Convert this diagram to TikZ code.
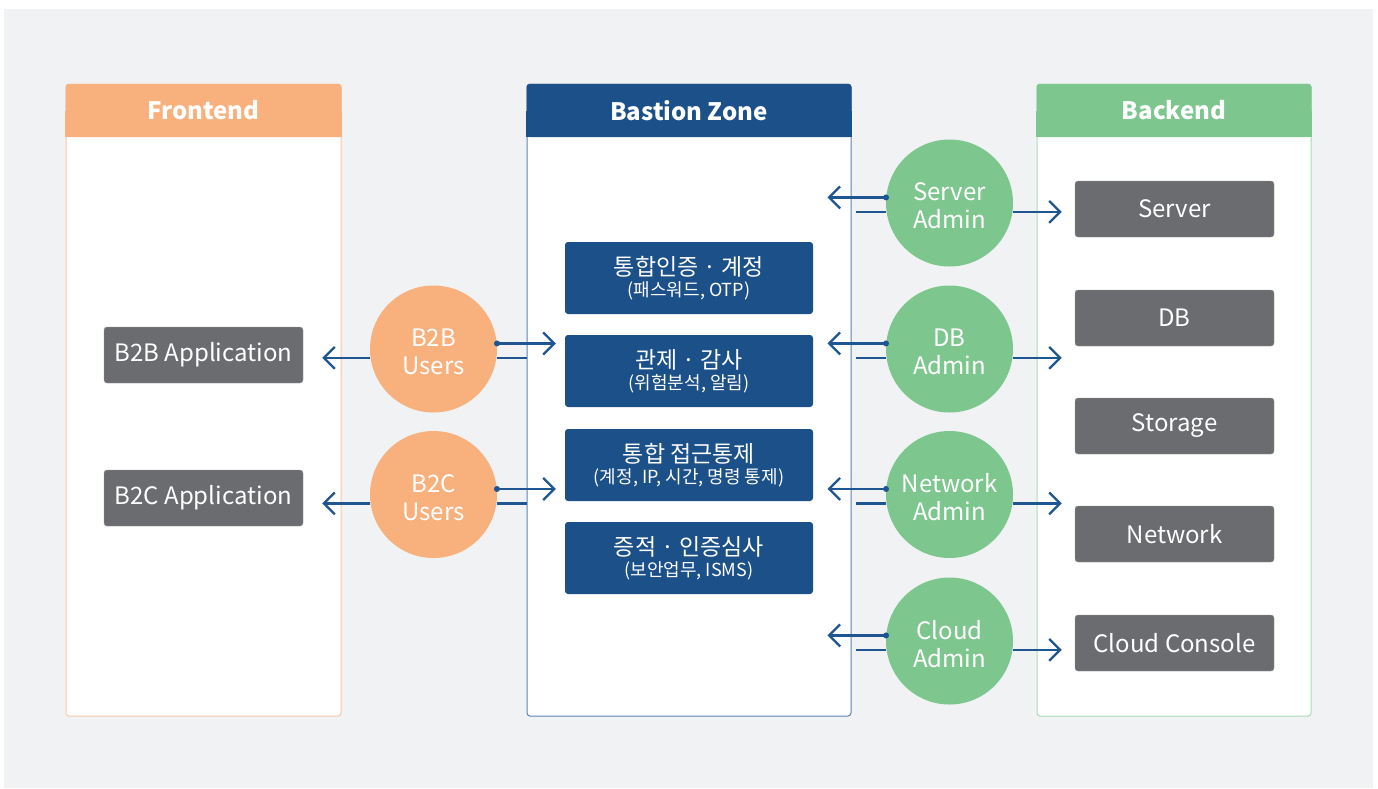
\documentclass[tikz,border=0pt]{standalone}
\usepackage{fontspec}
\setmainfont{Noto Sans CJK KR}
\usepackage{xcolor}
\usetikzlibrary{arrows.meta, calc, positioning}

\definecolor{bgGray}{HTML}{F0F2F4}
\definecolor{feOrange}{HTML}{F8B07C}
\definecolor{feLine}{HTML}{F8CBA8}
\definecolor{bzBlue}{HTML}{1C5088}
\definecolor{bzLine}{HTML}{5B84B3}
\definecolor{beGreen}{HTML}{7DC78F}
\definecolor{beLine}{HTML}{A9DCB6}
\definecolor{boxGray}{HTML}{6B6C70}
\definecolor{linkBlue}{HTML}{1F5590}

\begin{document}
\begin{tikzpicture}[
    x=1pt, y=-1pt,
    >={Straight Barb[length=11pt, width=22pt]},
    panel/.style={draw, fill=white, rounded corners=3pt, line width=1pt,
        minimum height=632pt, inner sep=0pt},
    head/.style={rounded corners=3pt, minimum height=53pt, inner sep=0pt,
        text=white, font=\bfseries\fontsize{24}{28}\selectfont},
    item/.style={fill=boxGray, draw=boxGray!70!white, rounded corners=3pt,
        minimum width=199pt, minimum height=56pt, inner sep=0pt,
        text=white, font=\fontsize{24}{28}\selectfont},
    sec/.style={fill=bzBlue, rounded corners=3pt, minimum width=248pt,
        minimum height=72pt, inner sep=0pt, text=white, align=center},
    user/.style={circle, fill=feOrange, minimum size=127pt, inner sep=0pt},
    admin/.style={user, fill=beGreen},
    who/.style={align=center, text=white, yshift=-3pt,
        font=\fontsize{24}{28}\selectfont},
    link/.style={linkBlue, line width=2.3pt},
    dot/.style={fill=linkBlue}
]
    \useasboundingbox (0,0) rectangle (1378,788);
    \fill[bgGray] (4,9) rectangle (1373,788);

    % Panels
    \node[panel, draw=feLine, minimum width=275pt] (front) at (203.5,400) {};
    \node[panel, draw=bzLine, minimum width=324pt] (bastion) at (689,400) {};
    \node[panel, draw=beLine, minimum width=274pt] (back) at (1174,400) {};

    \node[head, fill=feOrange, minimum width=276pt] (fronthead) at (203.5,110.5) {};
    \fill[feOrange] (fronthead.west) rectangle (fronthead.south east);
    \node[text=white, font=\bfseries\fontsize{24}{28}\selectfont] at (fronthead) {Frontend};

    \node[head, fill=bzBlue, minimum width=325pt] (bastionhead) at (689,110.5) {};
    \fill[bzBlue] (bastionhead.west) rectangle (bastionhead.south east);
    \node[text=white, font=\bfseries\fontsize{24}{28}\selectfont] at (bastionhead) {Bastion Zone};

    \node[head, fill=beGreen, minimum width=275pt] (backhead) at (1174,110.5) {};
    \fill[beGreen] (backhead.west) rectangle (backhead.south east);
    \node[text=white, font=\bfseries\fontsize{24}{28}\selectfont] at (backhead) {Backend};

    % Frontend applications
    \node[item] (b2bapp) at (203.5,355) {B2B Application};
    \node[item] (b2capp) at (203.5,498) {B2C Application};

    % Bastion functions
    \def\ttl#1#2{{\fontsize{23}{26}\selectfont #1}\\[3pt]{\fontsize{18}{21}\selectfont #2}}
    \node[sec] (sec1) at (689,278) {\ttl{통합인증 · 계정}{(패스워드, OTP)}};
    \node[sec] (sec2) at (689,371) {\ttl{관제 · 감사}{(위험분석, 알림)}};
    \node[sec] (sec3) at (689,465) {\ttl{통합 접근통제}{(계정, IP, 시간, 명령 통제)}};
    \node[sec] (sec4) at (689,558) {\ttl{증적 · 인증심사}{(보안업무, ISMS)}};

    % Backend resources
    \node[item] (server) at (1174.5,209) {Server};
    \node[item] (db) at (1174.5,318) {DB};
    \node[item] (storage) at (1174.5,426) {Storage};
    \node[item] (network) at (1174.5,534) {Network};
    \node[item] (cloud) at (1174.5,643) {Cloud Console};

    % Users
    \node[user, label={[who]center:B2B\\Users}] (b2b) at (433.5,349) {};
    \node[user, label={[who]center:B2C\\Users}] (b2c) at (433.5,494.5) {};

    % Admins
    \node[admin, label={[who]center:Server\\Admin}] (sadm) at (949.5,203) {};
    \node[admin, label={[who]center:DB\\Admin}] (dbadm) at (949.5,349) {};
    \node[admin, label={[who]center:Network\\Admin}] (netadm) at (949.5,494.5) {};
    \node[admin, label={[who]center:Cloud\\Admin}] (cldadm) at (949.5,641) {};

    % Users -> applications / bastion
    \draw[link, ->, shorten >=19pt] (b2b.188) -- (b2bapp.east |- b2b.188);
    \draw[link, ->, shorten >=9pt] (b2b.5) -- (sec2.west |- b2b.5);
    \fill[dot] (b2b.5) circle (3pt);
    \draw[link] (b2b.352) -- (bastion.west |- b2b.352);

    \draw[link, ->, shorten >=19pt] (b2c.188) -- (b2capp.east |- b2c.188);
    \draw[link, ->, shorten >=9pt] (b2c.5) -- (sec3.west |- b2c.5);
    \fill[dot] (b2c.5) circle (3pt);
    \draw[link] (b2c.352) -- (bastion.west |- b2c.352);

    % Admins -> bastion / backend
    \foreach \adm/\res in {sadm/server, dbadm/db, netadm/network, cldadm/cloud}{
        \draw[link, ->] (\adm.175) -- ([xshift=-24pt]bastion.east |- \adm.175);
        \fill[dot] (\adm.175) circle (3pt);
        \draw[link] (\adm.188) -- ([xshift=4pt]bastion.east |- \adm.188);
        \draw[link, ->, shorten >=13pt] (\adm.352) -- (\res.west |- \adm.352);
    }
\end{tikzpicture}
\end{document}
